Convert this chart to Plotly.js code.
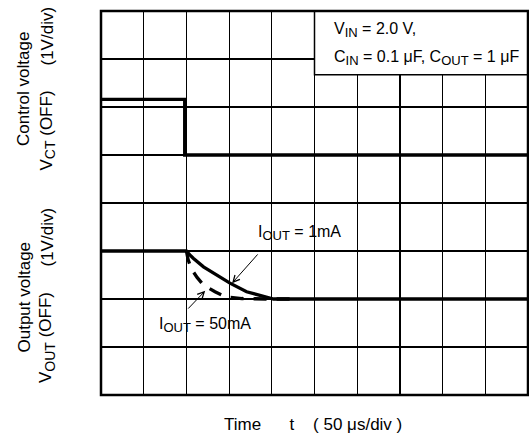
<!DOCTYPE html>
<html>
<head>
<meta charset="utf-8">
<script src="https://cdn.plot.ly/plotly-3.0.1.min.js"></script>
<style>
html,body{margin:0;padding:0;background:#fff;}
#chart{width:529px;height:439px;}
</style>
</head>
<body>
<div id="chart"></div>
<script>
// Time in divisions (50 µs/div), voltage in divisions (1 V/div)
const ctTime = [0, 1.96, 1.96, 10];
const ctVolt = [6.16, 6.16, 5.0, 5.0];

const out1mATime = [0, 2.0, 2.08, 2.16, 2.40, 2.63, 3.02, 3.41, 3.80, 4.04, 10];
const out1mAVolt = [3.0, 3.0, 2.92, 2.85, 2.67, 2.54, 2.33, 2.15, 2.05, 2.0, 2.0];

const out50mATime = [2.0, 2.04, 2.12, 2.25, 2.40, 2.67, 2.94, 3.30, 3.88, 4.45];
const out50mAVolt = [3.0, 2.82, 2.62, 2.45, 2.29, 2.15, 2.04, 2.01, 2.0, 2.0];

const xDivs = [0, 10];
const yDivs = [0, 8];

const FONT = 'Liberation Sans, Arial, sans-serif';

const traces = [
  {x: ctTime, y: ctVolt, mode: 'lines', line: {color: '#000', width: 3.3}, hoverinfo: 'skip'},
  {x: out1mATime, y: out1mAVolt, mode: 'lines', line: {color: '#000', width: 3.3}, hoverinfo: 'skip'},
  {x: out50mATime, y: out50mAVolt, mode: 'lines', line: {color: '#000', width: 3.3, dash: '13px,10px'}, hoverinfo: 'skip'}
];

const W = 427, H = 384, L = 101, T = 11;
function px(xp){ return (xp - L) / W; }
function py(yp){ return (T + H - yp) / H; }
function sub(s, size){ return '<sub><span style="font-size:' + size + 'px">' + s + '</span></sub>'; }

const layout = {
  width: 529, height: 439,
  margin: {l: L, r: 1, t: T, b: 44, pad: 0},
  paper_bgcolor: '#fff', plot_bgcolor: '#fff',
  showlegend: false,
  font: {family: FONT, size: 16, color: '#000'},
  xaxis: {range: xDivs, dtick: 1, tick0: 0, showticklabels: false, ticks: '',
          showgrid: true, gridcolor: '#000', gridwidth: 1.2, zeroline: false, showline: false, fixedrange: true},
  yaxis: {range: yDivs, dtick: 1, tick0: 0, showticklabels: false, ticks: '',
          showgrid: true, gridcolor: '#000', gridwidth: 1.2, zeroline: false, showline: false, fixedrange: true},
  shapes: [
    {type: 'rect', xref: 'x', yref: 'y', x0: 5, x1: 10, y0: 6.67, y1: 8,
     fillcolor: '#fff', line: {color: '#000', width: 1.5}, layer: 'above'},
    {type: 'rect', xref: 'paper', yref: 'paper', x0: 0, x1: 1, y0: 0, y1: 1,
     fillcolor: 'rgba(0,0,0,0)', line: {color: '#000', width: 2.5}, layer: 'above'}
  ],
  annotations: [
    {xref: 'x', yref: 'y', x: 5.4, y: 7.6, xanchor: 'left', yanchor: 'middle', showarrow: false,
     text: 'V' + sub('IN', 13) + ' = 2.0 V,'},
    {xref: 'x', yref: 'y', x: 5.4, y: 7.03, xanchor: 'left', yanchor: 'middle', showarrow: false,
     text: 'C' + sub('IN', 13) + ' = 0.1 \u03bcF, C' + sub('OUT', 13) + ' = 1 \u03bcF'},
    {xref: 'x', yref: 'y', x: 3.62, y: 3.375, xanchor: 'left', yanchor: 'middle', showarrow: false,
     text: 'I' + sub('OUT', 13) + ' = 1mA'},
    {xref: 'x', yref: 'y', x: 1.31, y: 1.46, xanchor: 'left', yanchor: 'middle', showarrow: false,
     text: 'I' + sub('OUT', 13) + ' = 50mA'},
    {xref: 'x', yref: 'y', axref: 'x', ayref: 'y', x: 3.07, y: 2.33, ax: 3.70, ay: 2.96,
     text: '', showarrow: true, arrowhead: 5, arrowsize: 1.3, arrowwidth: 1, arrowcolor: '#000'},
    {xref: 'x', yref: 'y', axref: 'x', ayref: 'y', x: 2.44, y: 2.17, ax: 2.01, ay: 1.77,
     text: '', showarrow: true, arrowhead: 5, arrowsize: 1.3, arrowwidth: 1, arrowcolor: '#000'},
    {xref: 'paper', yref: 'paper', x: px(23.5), y: py(89.5), textangle: -90, showarrow: false,
     xanchor: 'center', yanchor: 'middle', text: 'Control voltage', font: {size: 17}},
    {xref: 'paper', yref: 'paper', x: px(47), y: py(36.5), textangle: -90, showarrow: false,
     xanchor: 'center', yanchor: 'middle', text: '(1V/div)', font: {size: 17}},
    {xref: 'paper', yref: 'paper', x: px(47), y: py(130.5), textangle: -90, showarrow: false,
     xanchor: 'center', yanchor: 'middle', text: 'V' + sub('CT', 14) + ' (OFF)', font: {size: 17}},
    {xref: 'paper', yref: 'paper', x: px(23.5), y: py(297), textangle: -90, showarrow: false,
     xanchor: 'center', yanchor: 'middle', text: 'Output voltage', font: {size: 17}},
    {xref: 'paper', yref: 'paper', x: px(47), y: py(237.5), textangle: -90, showarrow: false,
     xanchor: 'center', yanchor: 'middle', text: '(1V/div)', font: {size: 17}},
    {xref: 'paper', yref: 'paper', x: px(47), y: py(338), textangle: -90, showarrow: false,
     xanchor: 'center', yanchor: 'middle', text: 'V' + sub('OUT', 14) + ' (OFF)', font: {size: 17}},
    {xref: 'paper', yref: 'paper', x: px(313), y: py(424), showarrow: false,
     xanchor: 'center', yanchor: 'middle', font: {size: 17},
     text: 'Time\u00a0\u00a0\u00a0\u00a0\u00a0\u00a0t\u00a0\u00a0\u00a0\u00a0(\u00a050\u00a0\u03bcs/div\u00a0)'}
  ]
};

Plotly.newPlot('chart', traces, layout, {staticPlot: true, displayModeBar: false});
</script>
</body>
</html>
